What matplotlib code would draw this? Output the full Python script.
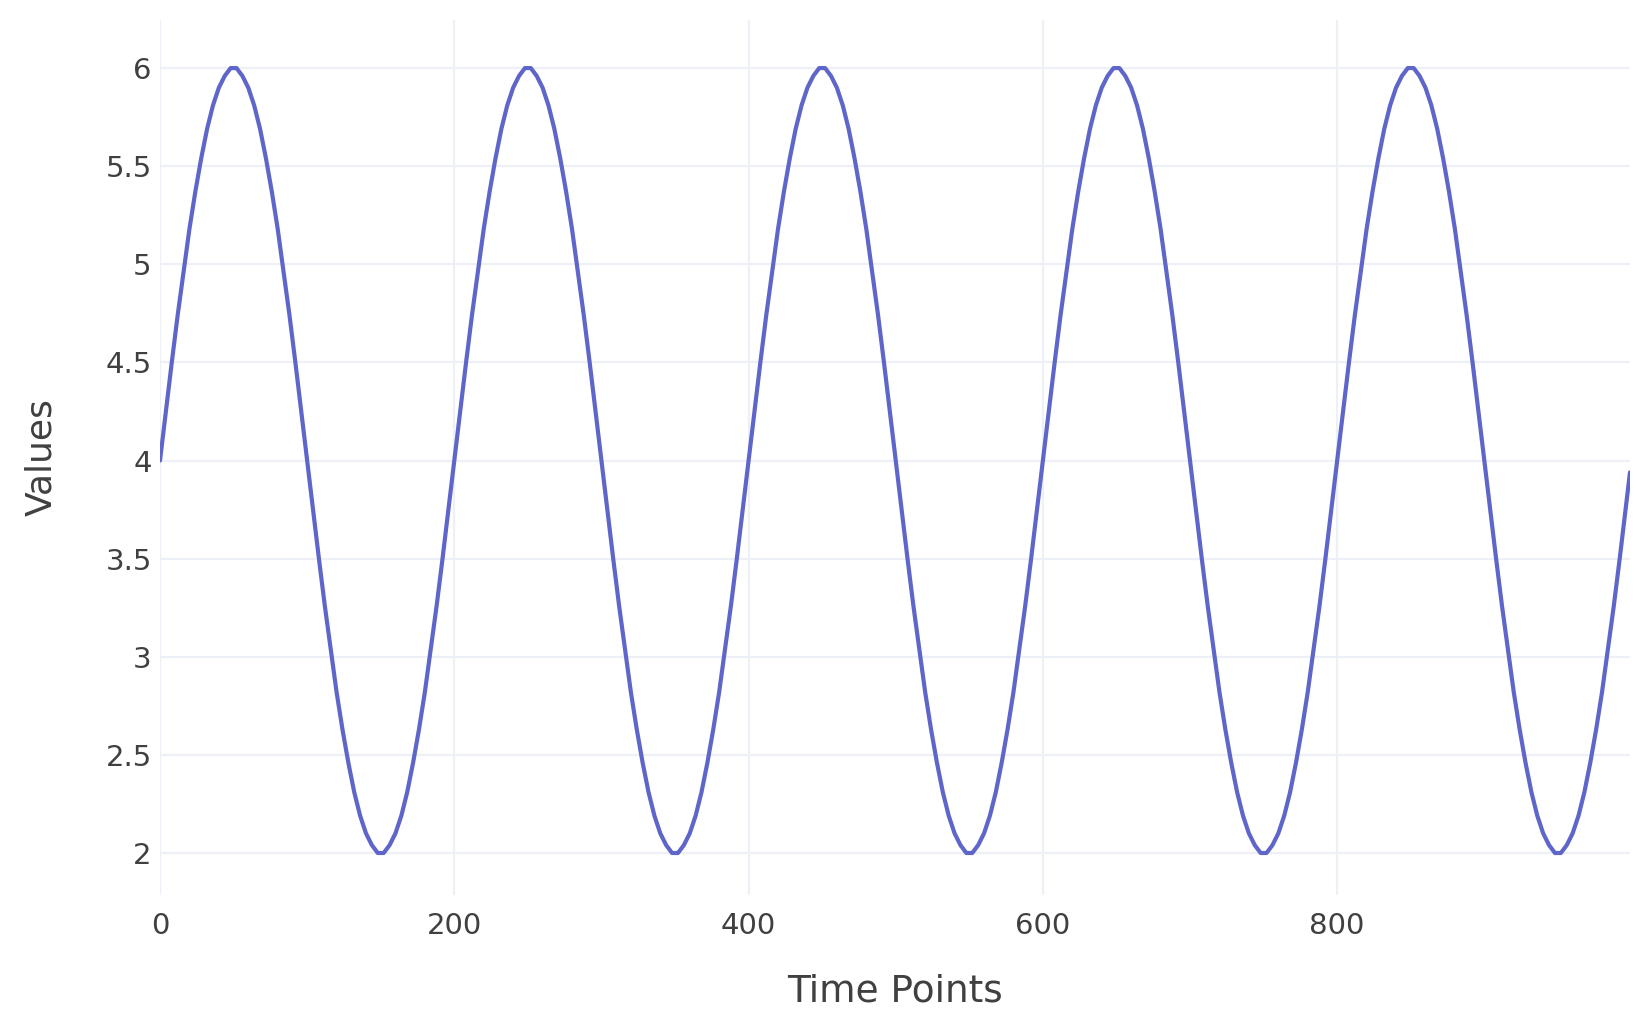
import numpy as np
import matplotlib
matplotlib.use("Agg")
import matplotlib.pyplot as plt

# Time points (sampled every 4 steps, plus the final point)
time_points = list(range(0, 1000, 4)) + [999]

values = [
    4.00, 4.25, 4.50, 4.74, 4.96, 5.18, 5.37, 5.54, 5.69, 5.81,
    5.90, 5.96, 6.00, 6.00, 5.96, 5.90, 5.81, 5.69, 5.54, 5.37,
    5.18, 4.96, 4.74, 4.50, 4.25, 4.00, 3.75, 3.50, 3.26, 3.04,
    2.82, 2.63, 2.46, 2.31, 2.19, 2.10, 2.04, 2.00, 2.00, 2.04,
    2.10, 2.19, 2.31, 2.46, 2.63, 2.82, 3.04, 3.26, 3.50, 3.75,

    4.00, 4.25, 4.50, 4.74, 4.96, 5.18, 5.37, 5.54, 5.69, 5.81,
    5.90, 5.96, 6.00, 6.00, 5.96, 5.90, 5.81, 5.69, 5.54, 5.37,
    5.18, 4.96, 4.74, 4.50, 4.25, 4.00, 3.75, 3.50, 3.26, 3.04,
    2.82, 2.63, 2.46, 2.31, 2.19, 2.10, 2.04, 2.00, 2.00, 2.04,
    2.10, 2.19, 2.31, 2.46, 2.63, 2.82, 3.04, 3.26, 3.50, 3.75,

    4.00, 4.25, 4.50, 4.74, 4.96, 5.18, 5.37, 5.54, 5.69, 5.81,
    5.90, 5.96, 6.00, 6.00, 5.96, 5.90, 5.81, 5.69, 5.54, 5.37,
    5.18, 4.96, 4.74, 4.50, 4.25, 4.00, 3.75, 3.50, 3.26, 3.04,
    2.82, 2.63, 2.46, 2.31, 2.19, 2.10, 2.04, 2.00, 2.00, 2.04,
    2.10, 2.19, 2.31, 2.46, 2.63, 2.82, 3.04, 3.26, 3.50, 3.75,

    4.00, 4.25, 4.50, 4.74, 4.96, 5.18, 5.37, 5.54, 5.69, 5.81,
    5.90, 5.96, 6.00, 6.00, 5.96, 5.90, 5.81, 5.69, 5.54, 5.37,
    5.18, 4.96, 4.74, 4.50, 4.25, 4.00, 3.75, 3.50, 3.26, 3.04,
    2.82, 2.63, 2.46, 2.31, 2.19, 2.10, 2.04, 2.00, 2.00, 2.04,
    2.10, 2.19, 2.31, 2.46, 2.63, 2.82, 3.04, 3.26, 3.50, 3.75,

    4.00, 4.25, 4.50, 4.74, 4.96, 5.18, 5.37, 5.54, 5.69, 5.81,
    5.90, 5.96, 6.00, 6.00, 5.96, 5.90, 5.81, 5.69, 5.54, 5.37,
    5.18, 4.96, 4.74, 4.50, 4.25, 4.00, 3.75, 3.50, 3.26, 3.04,
    2.82, 2.63, 2.46, 2.31, 2.19, 2.10, 2.04, 2.00, 2.00, 2.04,
    2.10, 2.19, 2.31, 2.46, 2.63, 2.82, 3.04, 3.26, 3.50, 3.75,

    3.94,
]

x_ticks = [0, 200, 400, 600, 800]
x_tick_labels = ["0", "200", "400", "600", "800"]
y_ticks = [2, 2.5, 3, 3.5, 4, 4.5, 5, 5.5, 6]
y_tick_labels = ["2", "2.5", "3", "3.5", "4", "4.5", "5", "5.5", "6"]

plt.rcParams['font.family'] = ['DejaVu Sans']

fig = plt.figure(figsize=(16.48, 10.23), dpi=100)
ax = fig.add_axes([160/1648, 1 - 895/1023, (1630 - 160)/1648, (895 - 20)/1023])

line_color = "#5f66c9"
grid_color = "#edf1f7"
text_color = "#404040"

ax.plot(time_points, values, color=line_color, linewidth=3.0, solid_capstyle='round',
        solid_joinstyle='round', zorder=3)

ax.set_xlim(0, 999)
ax.set_ylim(1.786, 6.245)

ax.set_xticks(x_ticks)
ax.set_xticklabels(x_tick_labels)
ax.set_yticks(y_ticks)
ax.set_yticklabels(y_tick_labels)

ax.grid(True, color=grid_color, linewidth=1.6, zorder=0)
ax.set_axisbelow(True)
for s in ax.spines.values():
    s.set_visible(False)

ax.tick_params(axis='both', length=0, labelsize=21, colors=text_color)
ax.tick_params(axis='x', pad=12)
ax.tick_params(axis='y', pad=6)

ax.set_xlabel("Time Points", fontsize=27, color=text_color, labelpad=24)
ax.set_ylabel("Values", fontsize=26, color=text_color, labelpad=34)

fig.savefig("out.png", dpi=100, facecolor="white")
